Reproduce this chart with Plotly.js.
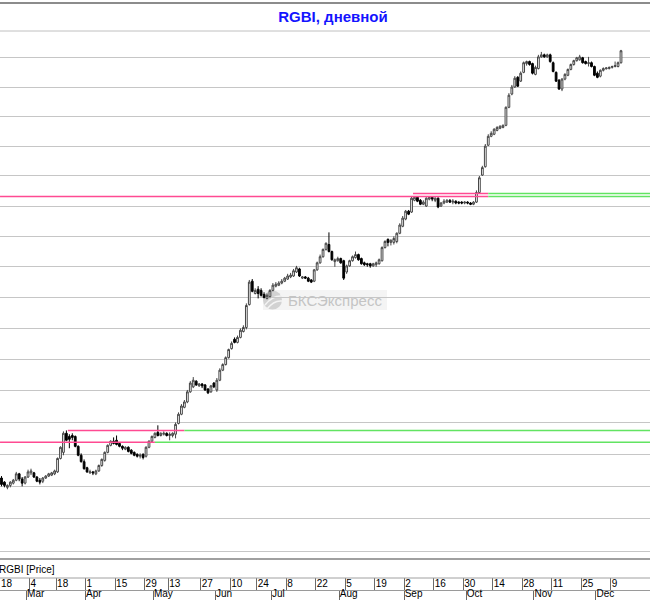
<!DOCTYPE html>
<html>
<head>
<meta charset="utf-8">
<script src="https://cdn.plot.ly/plotly-3.0.1.min.js"></script>
<style>html,body{margin:0;padding:0;background:#fff;}#chart{width:650px;height:600px;}</style>
</head>
<body>
<div id="chart"></div>
<script>
// ---- Data (RGBI daily, Feb 18 – Dec 13) ----
var openPrice = [
136.26,136.13,135.97,136.03,136.10,136.19,136.39,136.23,136.10,136.29,
136.42,136.42,136.29,136.19,136.16,136.26,136.32,136.35,136.39,136.45,
136.87,137.06,137.66,137.56,137.59,137.56,137.25,136.97,136.77,136.58,
136.42,136.45,136.39,136.48,136.65,136.81,137.06,137.28,137.41,137.44,
137.34,137.25,137.16,137.22,137.13,137.06,137.00,136.94,137.00,136.94,
137.22,137.41,137.53,137.69,137.59,137.63,137.66,137.59,137.59,137.63,
137.97,138.26,138.48,138.65,138.97,139.13,139.31,139.16,139.22,139.19,
139.06,138.97,139.25,139.03,139.34,139.66,139.84,140.06,140.35,140.65,
140.55,140.71,140.90,141.03,141.77,142.53,142.13,142.27,142.23,142.10,
141.97,142.03,142.23,142.37,142.40,142.47,142.53,142.60,142.67,142.70,
142.83,142.93,142.63,142.67,142.63,142.57,142.53,142.90,143.13,143.33,
143.57,143.73,143.50,143.17,143.20,143.27,143.20,142.83,143.03,143.20,
143.30,143.40,143.27,143.13,143.10,143.10,143.03,143.07,143.10,143.20,
143.63,143.90,143.80,143.80,143.83,144.10,144.33,144.57,144.83,144.80,
145.19,145.29,145.19,145.06,145.00,145.23,145.29,145.19,145.26,145.00,
145.10,145.13,145.19,145.13,145.16,145.13,145.13,145.10,145.13,145.10,
145.06,145.13,145.45,146.03,146.31,147.03,147.33,147.40,147.53,147.60,
147.63,147.70,148.31,148.76,149.00,149.33,149.20,149.50,149.80,149.87,
149.80,149.43,149.63,150.03,150.10,150.03,150.10,149.83,149.50,149.23,
148.93,149.27,149.40,149.60,149.77,149.90,149.93,150.00,149.87,149.80,
149.83,149.70,149.47,149.37,149.57,149.62,149.63,149.67,149.70,149.70,
149.83];
var highPrice = [
136.32,136.16,136.06,136.16,136.23,136.45,136.42,136.29,136.32,136.52,
136.55,136.45,136.32,136.26,136.29,136.35,136.42,136.45,136.52,136.90,
137.25,137.72,137.75,137.63,137.66,137.59,137.28,137.03,136.84,136.61,
136.52,136.48,136.52,136.68,136.87,137.09,137.31,137.44,137.53,137.59,
137.38,137.28,137.25,137.25,137.16,137.09,137.03,137.03,137.03,137.25,
137.44,137.59,137.69,137.91,137.69,137.72,137.69,137.69,137.69,138.00,
138.32,138.58,138.71,139.03,139.31,139.44,139.34,139.25,139.25,139.22,
139.09,139.19,139.28,139.41,139.72,139.88,140.10,140.35,140.58,140.71,
140.77,141.00,141.10,141.81,142.57,142.60,142.30,142.37,142.30,142.17,
142.13,142.27,142.47,142.50,142.53,142.60,142.67,142.77,142.80,142.93,
143.03,142.97,142.70,142.70,142.67,142.60,142.93,143.17,143.40,143.60,
143.80,144.13,143.53,143.27,143.33,143.30,143.23,143.07,143.23,143.37,
143.50,143.43,143.30,143.17,143.13,143.13,143.13,143.17,143.27,143.67,
143.87,143.93,143.90,144.00,144.13,144.43,144.67,144.87,144.87,145.32,
145.32,145.32,145.23,145.19,145.29,145.32,145.32,145.29,145.29,145.13,
145.23,145.23,145.23,145.23,145.19,145.16,145.16,145.16,145.16,145.13,
145.16,145.52,146.00,146.34,147.07,147.40,147.50,147.60,147.67,147.70,
147.73,148.34,148.79,149.07,149.37,149.37,149.53,149.87,149.90,149.90,
149.83,149.73,150.10,150.20,150.14,150.14,150.14,149.87,149.53,149.27,
149.30,149.47,149.63,149.80,149.93,150.03,150.10,150.03,149.90,150.03,
149.87,149.73,149.53,149.60,149.67,149.67,149.70,149.73,149.87,149.87,
150.27];
var lowPrice = [
136.00,135.97,135.91,135.97,136.06,136.16,136.16,136.00,136.06,136.26,
136.35,136.26,136.13,136.06,136.10,136.23,136.29,136.32,136.35,136.42,
136.84,136.97,137.41,137.19,137.44,137.22,136.94,136.74,136.52,136.42,
136.39,136.35,136.35,136.45,136.61,136.77,137.03,137.25,137.31,137.28,
137.22,137.13,137.13,137.06,137.00,136.94,136.90,136.87,136.84,136.90,
137.19,137.38,137.50,137.56,137.56,137.59,137.56,137.44,137.53,137.50,
137.94,138.23,138.45,138.61,138.94,139.09,139.16,139.13,139.09,139.00,
138.90,138.94,139.09,138.97,139.31,139.63,139.81,140.03,140.32,140.52,
140.52,140.68,140.87,140.97,141.74,142.17,142.10,141.97,142.03,141.97,
141.94,142.00,142.20,142.33,142.37,142.43,142.50,142.57,142.63,142.67,
142.80,142.67,142.60,142.60,142.50,142.47,142.50,142.87,143.10,143.30,
143.53,143.47,143.20,143.00,143.17,143.10,142.57,142.77,143.00,143.17,
143.27,143.20,143.07,143.03,143.00,142.97,143.00,143.00,143.07,143.17,
143.60,143.67,143.70,143.73,143.77,144.07,144.30,144.53,144.70,144.77,
145.16,145.13,145.03,145.03,144.97,145.19,145.16,145.13,144.93,144.97,
145.06,145.10,145.10,145.06,145.06,145.06,145.06,145.06,145.06,145.03,
145.03,145.10,145.42,146.00,146.28,147.00,147.30,147.37,147.50,147.57,
147.60,147.67,148.28,148.72,148.97,149.00,149.17,149.47,149.73,149.73,
149.43,149.40,149.60,150.00,150.00,150.00,149.83,149.50,149.17,148.90,
148.86,149.23,149.37,149.57,149.73,149.87,149.90,149.80,149.77,149.70,
149.67,149.37,149.30,149.33,149.53,149.60,149.60,149.63,149.67,149.67,
149.80];
var closePrice = [
136.06,136.03,136.03,136.13,136.19,136.39,136.23,136.10,136.29,136.45,
136.48,136.29,136.16,136.13,136.26,136.32,136.39,136.42,136.48,136.87,
137.22,137.66,137.44,137.47,137.53,137.25,136.97,136.77,136.55,136.45,
136.45,136.42,136.48,136.65,136.84,137.06,137.28,137.41,137.34,137.31,
137.25,137.19,137.22,137.09,137.03,136.97,136.94,136.97,136.90,137.22,
137.41,137.56,137.66,137.59,137.66,137.66,137.59,137.63,137.66,137.94,
138.26,138.52,138.65,138.97,139.25,139.34,139.19,139.22,139.16,139.03,
138.94,139.16,139.13,139.34,139.66,139.84,140.06,140.32,140.52,140.55,
140.71,140.94,141.03,141.74,142.50,142.20,142.23,142.13,142.07,142.00,
142.07,142.23,142.40,142.43,142.47,142.53,142.63,142.70,142.73,142.87,
142.97,142.70,142.67,142.63,142.53,142.50,142.90,143.13,143.33,143.57,
143.77,143.50,143.23,143.23,143.27,143.13,142.63,143.03,143.20,143.33,
143.40,143.23,143.10,143.07,143.07,143.03,143.10,143.13,143.23,143.63,
143.83,143.80,143.87,143.93,144.10,144.37,144.60,144.83,144.73,145.26,
145.29,145.16,145.06,145.13,145.26,145.29,145.23,145.26,144.97,145.10,
145.16,145.19,145.13,145.16,145.10,145.10,145.10,145.13,145.10,145.06,
145.13,145.45,145.94,146.28,147.00,147.33,147.43,147.57,147.63,147.67,
147.70,148.31,148.72,149.00,149.30,149.03,149.47,149.83,149.87,149.77,
149.47,149.67,150.03,150.10,150.03,150.10,149.87,149.53,149.20,148.93,
149.27,149.43,149.60,149.77,149.90,150.00,150.03,149.83,149.80,149.83,
149.70,149.40,149.33,149.57,149.63,149.65,149.67,149.70,149.73,149.83,
150.24];

// trading-day tick labels (two rows: day of month / month)
var dayLabels   = ['18','4','18','1','15','29','13','27','10','24','8','22','5','19','2','16','30','14','28','11','25','9'];
var dayTickIdx  = [0,10,19,29,39,49,57,68,78,87,97,107,117,127,137,147,157,167,177,187,197,207];
var monthLabels = ['Mar','Apr','May','Jun','Jul','Aug','Sep','Oct','Nov','Dec'];
var monthTickIdx= [9,29,52,73,92,115,137,158,181,202];

// horizontal grid levels (price)
var gridLevels = [134,135,136,137,138,139,140,141,142,143,144,145,146,147,148,149,150];

// support / resistance levels: price, start index, switch index (pink -> green)
var levelPrice  = [137.38, 137.75, 145.32, 145.42];
var levelStart  = [-0.5, 22.5, -0.5, 139.5];
var levelSwitch = [52, 62, 165, 165];

// ---- Layout helpers ----
var W = 650, H = 600, MT = 31, MB = 1;
var PH = H - MT - MB;
function yp(py){ return (H - MB - py) / PH; }
var PPD = 2.95, X0 = 1.5;
var xMin = -X0 / PPD, xMax = (W - X0) / PPD;

var idx = openPrice.map(function(_, i){ return i; });

var traces = [];
for (var k = 0; k < levelPrice.length; k++) {
  traces.push({type:'scatter', mode:'lines', x:[levelStart[k], levelSwitch[k]], y:[levelPrice[k], levelPrice[k]],
    line:{color:'#ff4a92', width:1.5}, hoverinfo:'skip', showlegend:false});
  traces.push({type:'scatter', mode:'lines', x:[levelSwitch[k], xMax + 5], y:[levelPrice[k], levelPrice[k]],
    line:{color:'#62e462', width:1.5}, hoverinfo:'skip', showlegend:false});
}
traces.push({
  type:'candlestick', x:idx, open:openPrice, high:highPrice, low:lowPrice, close:closePrice,
  increasing:{line:{color:'#454545', width:1}, fillcolor:'#ffffff'},
  decreasing:{line:{color:'#000000', width:1}, fillcolor:'#000000'},
  whiskerwidth:0, hoverinfo:'skip', showlegend:false
});
traces.push({type:'scatter', x:[], y:[], xaxis:'x2', yaxis:'y', hoverinfo:'skip', showlegend:false});

var lblFont = {family:'Liberation Sans, Arial, sans-serif', size:10, color:'#000'};

var layout = {
  width:W, height:H,
  margin:{l:0, r:0, t:MT, b:MB, pad:0},
  paper_bgcolor:'#ffffff', plot_bgcolor:'#ffffff',
  showlegend:false,
  boxgap:0.15,
  title:{text:'RGBI, дневной', x:333/W, xanchor:'center', xref:'paper', y:1 - 17/H, yanchor:'middle', yref:'container',
    font:{family:'Liberation Sans, Arial, sans-serif', size:15, color:'#1414ff', weight:'bold'}},
  xaxis:{range:[xMin, xMax], anchor:'free', position:yp(590), rangeslider:{visible:false},
    showgrid:false, zeroline:false, showline:true, linecolor:'#9a9a9a', linewidth:1,
    ticks:'inside', ticklen:12, tickwidth:1, tickcolor:'#6a6a6a',
    tickmode:'array', tickvals:dayTickIdx.map(function(v){return v - 0.5;}), ticktext:dayLabels,
    ticklabelposition:'inside right', ticklabelstandoff:-3, tickfont:lblFont, fixedrange:true},
  xaxis2:{range:[xMin, xMax], overlaying:'x', anchor:'free', position:yp(590),
    showgrid:false, zeroline:false, showline:false,
    ticks:'outside', ticklen:10, tickwidth:1, tickcolor:'#6a6a6a',
    tickmode:'array', tickvals:monthTickIdx.map(function(v){return v - 0.5;}), ticktext:monthLabels,
    ticklabelposition:'outside right', ticklabelstandoff:-6, tickfont:lblFont, fixedrange:true},
  yaxis:{type:'log', domain:[yp(559), 1], range:[Math.log10(133.76), Math.log10(150.92)],
    tickmode:'array', tickvals:gridLevels, showticklabels:false, ticks:'',
    showgrid:true, gridcolor:'#c6c6c6', gridwidth:1, zeroline:false, showline:false, fixedrange:true},
  shapes:[
    {type:'line', xref:'paper', yref:'paper', x0:0, x1:1, y0:yp(3), y1:yp(3), line:{color:'#8c8c8c', width:2}},
    {type:'line', xref:'paper', yref:'paper', x0:0, x1:1, y0:yp(31), y1:yp(31), line:{color:'#c0c0c0', width:1}},
    {type:'line', xref:'paper', yref:'paper', x0:0, x1:1, y0:yp(559), y1:yp(559), line:{color:'#808080', width:1.5}},
    {type:'line', xref:'paper', yref:'paper', x0:0, x1:1, y0:yp(578), y1:yp(578), line:{color:'#a0a0a0', width:1}},
    {type:'rect', xref:'paper', yref:'paper', x0:263/W, x1:387/W, y0:yp(310), y1:yp(290), fillcolor:'#f4f4f4', line:{width:0}, layer:'between'},
    {type:'circle', xref:'paper', yref:'paper', x0:263/W, x1:282/W, y0:yp(309.5), y1:yp(290.5), fillcolor:'#d2d2d2', line:{width:0}, layer:'between'},
    {type:'path', xref:'paper', yref:'paper', layer:'between', line:{color:'#f4f4f4', width:1.5},
      path:'M '+(265/W)+','+yp(305)+' Q '+(272/W)+','+yp(296)+' '+(281/W)+','+yp(296)},
    {type:'path', xref:'paper', yref:'paper', layer:'between', line:{color:'#f4f4f4', width:1.5},
      path:'M '+(267/W)+','+yp(309)+' Q '+(274/W)+','+yp(300)+' '+(282/W)+','+yp(301)}
  ],
  annotations:[
    {xref:'paper', yref:'paper', x:335/W, y:yp(300), xanchor:'center', yanchor:'middle', showarrow:false,
      text:'БКСЭкспресс', font:{family:'Liberation Sans, Arial, sans-serif', size:15, color:'#c4c4c4'}},
    {xref:'paper', yref:'paper', x:-3/W, y:yp(569), xanchor:'left', yanchor:'middle', showarrow:false,
      text:'RGBI [Price]', font:lblFont}
  ]
};

Plotly.newPlot('chart', traces, layout, {staticPlot:true, displayModeBar:false});
</script>
</body>
</html>
